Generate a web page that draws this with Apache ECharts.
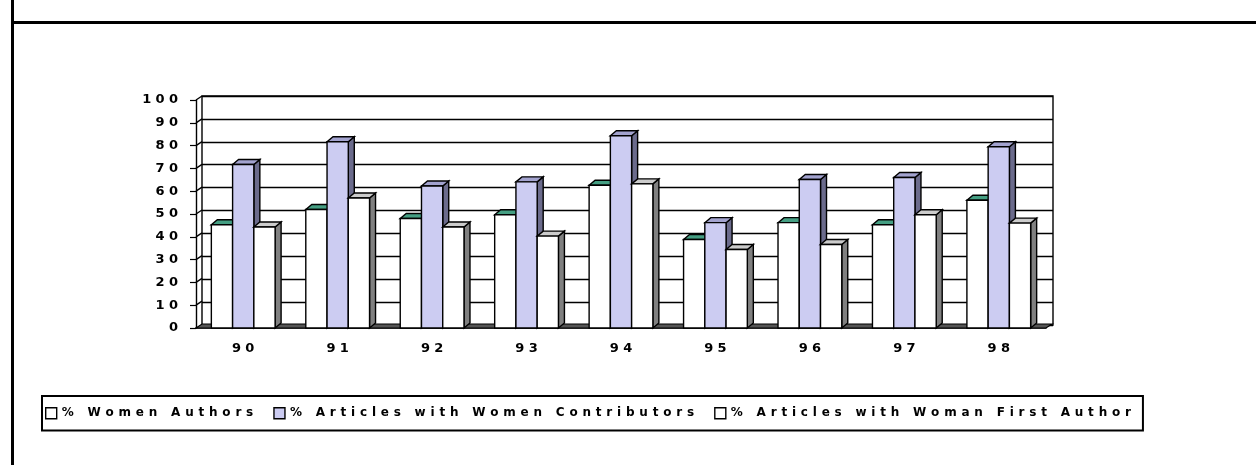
<!DOCTYPE html>
<html>
<head>
<meta charset="utf-8">
<script src="https://cdn.jsdelivr.net/npm/echarts@6/dist/echarts.min.js"></script>
<style>
  html, body { margin: 0; padding: 0; background: #fff; }
  #chart { width: 1256px; height: 465px; }
</style>
</head>
<body>
<div id="chart"></div>
<script>
// data
const years = ['90', '91', '92', '93', '94', '95', '96', '97', '98']
const seriesNames = [
  '% Women Authors',
  '% Articles with Women Contributors',
  '% Articles with Woman First Author'
]
const womenAuthors = [45.3, 52, 48, 49.7, 62.6, 38.8, 46.2, 45.3, 56]
const womenContributors = [71.7, 81.7, 62.3, 64.1, 84.3, 46.2, 65.1, 66, 79.5]
const womanFirstAuthor = [44.3, 57, 44.3, 40.3, 63.2, 34.4, 36.6, 49.7, 46]
const yTicks = [0, 10, 20, 30, 40, 50, 60, 70, 80, 90, 100]

const FONT = 'DejaVu Sans'
// the old excel export spreads every glyph apart
const spread = (s, gap) => s.split('').join(gap)

// front / top / side colours of each series' 3d bars
const faces = [
  { front: '#ffffff', top: '#459f83', side: '#808080' },
  { front: '#ccccf2', top: '#a3a3cf', side: '#6b6b8c' },
  { front: '#ffffff', top: '#cccccc', side: '#808080' }
]
const DX = 6
const DY = 5
const line = { stroke: '#000', lineWidth: 1.4 }

function barRenderer(slot) {
  return (params, api) => {
    const cat = api.value(0)
    const top = api.coord([cat, api.value(1)])
    const base = api.coord([cat, 0])
    const bw = api.size([1, 0])[0] * 0.225
    const x0 = top[0] + (slot - 1.5) * bw
    const x1 = x0 + bw
    const f = faces[slot]
    return {
      type: 'group',
      children: [
        {
          type: 'polygon',
          shape: { points: [[x1, top[1]], [x1 + DX, top[1] - DY], [x1 + DX, base[1] - DY], [x1, base[1]]] },
          style: { fill: f.side, ...line }
        },
        {
          type: 'polygon',
          shape: { points: [[x0, top[1]], [x0 + DX, top[1] - DY], [x1 + DX, top[1] - DY], [x1, top[1]]] },
          style: { fill: f.top, ...line }
        },
        {
          type: 'rect',
          shape: { x: x0, y: top[1], width: bw, height: base[1] - top[1] },
          style: { fill: f.front, ...line }
        }
      ]
    }
  }
}

// little diagonals of the left side wall, plus the floor slab
function wallRenderer(params, api) {
  const v = api.value(1)
  const half = api.size([1, 0])[0] / 2
  const p = api.coord([0, v])
  const x = p[0] - half
  const children = []
  if (v === 0) {
    const q = api.coord([years.length - 1, 0])
    const xr = q[0] + half
    children.push({
      type: 'polygon',
      shape: { points: [[x, p[1]], [x + 6, p[1] - 4], [xr + 6, p[1] - 4], [xr, p[1]]] },
      style: { fill: '#555', stroke: '#000', lineWidth: 1.2 }
    })
  } else {
    children.push({ type: 'line', shape: { x1: x, y1: p[1], x2: x + 6, y2: p[1] - 4 }, style: line })
  }
  return { type: 'group', children }
}

const chart = echarts.init(document.getElementById('chart'), undefined, { renderer: 'canvas' })

const barSeries = [womenAuthors, womenContributors, womanFirstAuthor].map((vals, i) => ({
  name: seriesNames[i],
  type: 'custom',
  xAxisIndex: 1,
  yAxisIndex: 1,
  z: 3,
  itemStyle: { color: faces[i].front, borderColor: '#000', borderWidth: 1 },
  encode: { x: 0, y: 1 },
  data: vals.map((v, j) => [j, v]),
  renderItem: barRenderer(i)
}))

chart.setOption({
  animation: false,
  textStyle: { fontFamily: FONT },
  graphic: [
    { type: 'line', shape: { x1: 12.5, y1: 0, x2: 12.5, y2: 465 }, style: { stroke: '#000', lineWidth: 3 } },
    { type: 'line', shape: { x1: 12, y1: 22.5, x2: 1256, y2: 22.5 }, style: { stroke: '#000', lineWidth: 3 } }
  ],
  grid: [
    // back wall
    { left: 202, right: 203, top: 96, bottom: 140, show: true, borderColor: '#000', borderWidth: 1.4, backgroundColor: '#fff' },
    // front plane
    { left: 196, right: 210, top: 100, bottom: 137 }
  ],
  xAxis: [
    { gridIndex: 0, type: 'category', data: years, show: false },
    {
      gridIndex: 1,
      type: 'category',
      data: years,
      axisLine: { lineStyle: { color: '#000', width: 1.5 } },
      axisTick: { length: 6, lineStyle: { color: '#000', width: 1.2 } },
      axisLabel: {
        margin: 14,
        color: '#000',
        fontSize: 13,
        fontWeight: 'bold',
        fontFamily: FONT,
        formatter: (v) => spread(v, '\u2004')
      }
    }
  ],
  yAxis: [
    {
      gridIndex: 0,
      type: 'value',
      min: 0,
      max: 100,
      interval: 10,
      axisLine: { show: false },
      axisTick: { show: false },
      axisLabel: { show: false },
      splitLine: { lineStyle: { color: '#000', width: 1.4 } }
    },
    {
      gridIndex: 1,
      type: 'value',
      min: 0,
      max: 100,
      interval: 10,
      axisLine: { show: true, lineStyle: { color: '#000', width: 1.4 } },
      axisTick: { show: true, length: 6, lineStyle: { color: '#000', width: 1.2 } },
      splitLine: { show: false },
      axisLabel: {
        margin: 18,
        color: '#000',
        fontSize: 13,
        fontWeight: 'bold',
        fontFamily: FONT,
        formatter: (v) => spread(String(v), '\u2004')
      }
    }
  ],
  legend: {
    data: seriesNames,
    left: 42,
    top: 396,
    padding: [11, 12, 11, 3],
    itemGap: 20,
    itemWidth: 11,
    itemHeight: 11,
    icon: 'rect',
    borderColor: '#000',
    borderWidth: 2,
    itemStyle: { borderColor: '#000', borderWidth: 1.4 },
    textStyle: { color: '#000', fontSize: 12, fontWeight: 'bold', fontFamily: FONT },
    formatter: (name) => spread(name, '\u2009\u2009')
  },
  series: [
    {
      type: 'custom',
      xAxisIndex: 1,
      yAxisIndex: 1,
      silent: true,
      z: 2,
      encode: { x: 0, y: 1 },
      data: yTicks.map((v) => [0, v]),
      renderItem: wallRenderer
    },
    ...barSeries
  ]
})
</script>
</body>
</html>
